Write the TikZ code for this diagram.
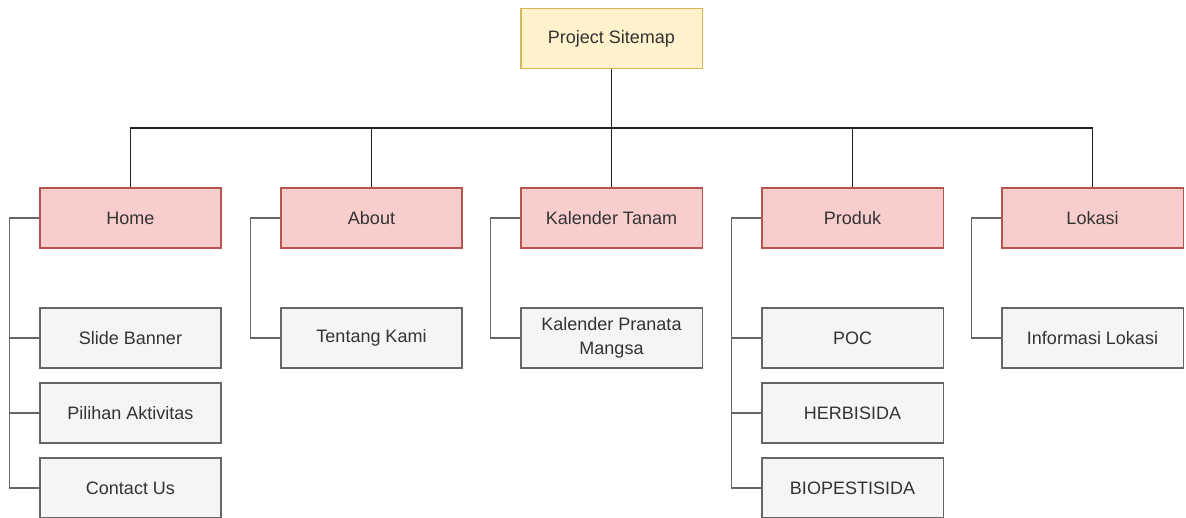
\documentclass[tikz,border=0pt]{standalone}
\usepackage{fontspec}
\setmainfont{Liberation Sans}
\usepackage{tikz}
\usepackage{xcolor}
\usetikzlibrary{calc}

\definecolor{rootfill}{HTML}{FFF2CC}
\definecolor{rootdraw}{HTML}{D6B656}
\definecolor{menufill}{HTML}{F8CECC}
\definecolor{menudraw}{HTML}{B85450}
\definecolor{subfill}{HTML}{F5F5F5}
\definecolor{subdraw}{HTML}{666666}
\definecolor{subtext}{HTML}{333333}
\definecolor{linkcol}{HTML}{222222}

\begin{document}
\begin{tikzpicture}[x=0.025cm,y=-0.025cm,font=\fontsize{12.8}{17}\selectfont,
        box/.style={draw,line width=0.75pt,minimum width=4.525cm,minimum height=1.5cm,inner sep=0pt,align=center,text=subtext},
        rootbox/.style={box,fill=rootfill,draw=rootdraw},
        menubox/.style={box,fill=menufill,draw=menudraw},
        subbox/.style={box,fill=subfill,draw=subdraw},
        link/.style={draw=linkcol,line width=0.75pt},
        sublink/.style={link,draw=black!60}]
    \useasboundingbox (0,0) rectangle (1186,518); % 1 unit = 1px
    \node[rootbox] (root) at (611.5,38.5) {Project Sitemap};
    \coordinate (bus) at (611.5,128);
    % menu utama
    \foreach \nm/\x/\txt in {home/130.5/Home,about/371.5/About,kalender/611.5/Kalender Tanam,produk/852.5/Produk,lokasi/1092.5/Lokasi}{
        \node[menubox] (\nm) at (\x,218) {\txt};
        \draw[link] (root.south) |- (\nm.north |- bus) -- (\nm.north);
    }
    % sub menu
    \foreach \up/\ch/\dy/\txt in {home/slide/120/Slide Banner,home/pilihan/195/Pilihan Aktivitas,home/contact/270/Contact Us,
            about/tentang/120/Tentang Kami,kalender/pranata/120/{Kalender Pranata\\Mangsa},
            produk/poc/120/POC,produk/herbi/195/HERBISIDA,produk/biopes/270/BIOPESTISIDA,lokasi/info/120/Informasi Lokasi}{
        \path (\up) ++(0,\dy) node[subbox] (\ch) {\txt};
        \draw[sublink] (\up.west) -- ++(-30,0) |- (\ch.west);
    }
\end{tikzpicture}
\end{document}
